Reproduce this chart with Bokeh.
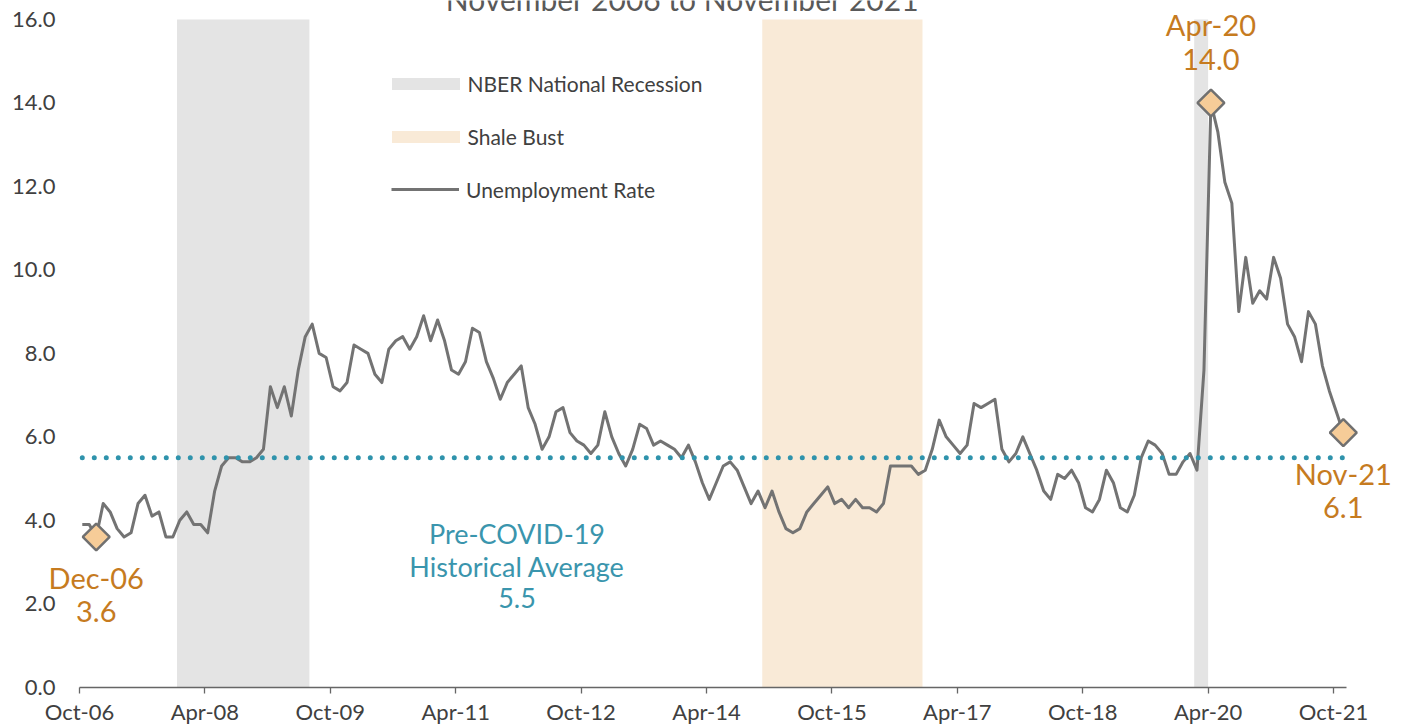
import math
import pandas as pd
from bokeh.plotting import figure
from bokeh.models import Range1d, FixedTicker, Legend, LegendItem, Label, ColumnDataSource, PrintfTickFormatter
from bokeh.embed import file_html
from bokeh.resources import INLINE

# ---------------- DATA ----------------
title_text = "November 2006 to November 2021"
start_month = "2006-10-01"
rate = [
    3.9, 3.9, 3.6, 4.4, 4.2, 3.8, 3.6, 3.7, 4.4, 4.6, 4.1, 4.2,   # Oct-06 .. Sep-07
    3.6, 3.6, 4.0, 4.2, 3.9, 3.9, 3.7, 4.7, 5.3, 5.5, 5.5, 5.4,   # Oct-07 .. Sep-08
    5.4, 5.5, 5.7, 7.2, 6.7, 7.2, 6.5, 7.6, 8.4, 8.7, 8.0, 7.9,   # Oct-08 .. Sep-09
    7.2, 7.1, 7.3, 8.2, 8.1, 8.0, 7.5, 7.3, 8.1, 8.3, 8.4, 8.1,   # Oct-09 .. Sep-10
    8.4, 8.9, 8.3, 8.8, 8.3, 7.6, 7.5, 7.8, 8.6, 8.5, 7.8, 7.4,   # Oct-10 .. Sep-11
    6.9, 7.3, 7.5, 7.7, 6.7, 6.3, 5.7, 6.0, 6.6, 6.7, 6.1, 5.9,   # Oct-11 .. Sep-12
    5.8, 5.6, 5.8, 6.6, 6.0, 5.6, 5.3, 5.7, 6.3, 6.2, 5.8, 5.9,   # Oct-12 .. Sep-13
    5.8, 5.7, 5.5, 5.8, 5.4, 4.9, 4.5, 4.9, 5.3, 5.4, 5.2, 4.8,   # Oct-13 .. Sep-14
    4.4, 4.7, 4.3, 4.7, 4.2, 3.8, 3.7, 3.8, 4.2, 4.4, 4.6, 4.8,   # Oct-14 .. Sep-15
    4.4, 4.5, 4.3, 4.5, 4.3, 4.3, 4.2, 4.4, 5.3, 5.3, 5.3, 5.3,   # Oct-15 .. Sep-16
    5.1, 5.2, 5.7, 6.4, 6.0, 5.8, 5.6, 5.8, 6.8, 6.7, 6.8, 6.9,   # Oct-16 .. Sep-17
    5.7, 5.4, 5.6, 6.0, 5.6, 5.2, 4.7, 4.5, 5.1, 5.0, 5.2, 4.9,   # Oct-17 .. Sep-18
    4.3, 4.2, 4.5, 5.2, 4.9, 4.3, 4.2, 4.6, 5.5, 5.9, 5.8, 5.6,   # Oct-18 .. Sep-19
    5.1, 5.1, 5.4, 5.6, 5.2, 7.6, 14.0, 13.3, 12.1, 11.6, 9.0, 10.3,  # Oct-19 .. Sep-20
    9.2, 9.5, 9.3, 10.3, 9.8, 8.7, 8.4, 7.8, 9.0, 8.7, 7.7, 7.1,  # Oct-20 .. Sep-21
    6.6, 6.1,                                                     # Oct-21 .. Nov-21
]
tick_labels = ["Oct-06", "Apr-08", "Oct-09", "Apr-11", "Oct-12", "Apr-14",
               "Oct-15", "Apr-17", "Oct-18", "Apr-20", "Oct-21"]
y_ticks = [0, 2, 4, 6, 8, 10, 12, 14, 16]
nber_periods = [("Dec-07", "Jun-09"), ("Feb-20", "Mar-20")]
shale_periods = [("Dec-14", "Oct-16")]
pre_covid_avg = 5.5
highlight_months = ["Dec-06", "Apr-20", "Nov-21"]
highlight_side = ["below", "above", "below"]

# ---------------- STYLE / LAYOUT ----------------
FONT = "Lato"
GRAY_TXT = "#404040"
ORANGE = "#C67B1F"
BLUE = "#3A95AD"
LINE_GRAY = "#737373"

W, H = 1404, 727
AX_L, AX_R = 79.0, 1346.0          # pixel x of axis start / end
AX_T, AX_B = 19.0, 686.7           # pixel y of top (16) / bottom (0)
X_END = 181.86                     # data x at axis end

months = pd.date_range(start_month, periods=len(rate), freq="MS").strftime("%b-%y").tolist()
idx = {m: i for i, m in enumerate(months)}
xs = [i + 0.4 for i in range(len(rate))]  # data sit mid-month, ticks at month start

ppx = (AX_R - AX_L) / X_END
ppy = (AX_B - AX_T) / (y_ticks[-1] - y_ticks[0])
x_range = Range1d(-AX_L / ppx, X_END + (W - AX_R) / ppx)
y_range = Range1d(y_ticks[0] - (H - AX_B) / ppy, y_ticks[-1] + AX_T / ppy)

p = figure(width=W, height=H, output_backend="svg", toolbar_location=None,
           x_range=x_range, y_range=y_range,
           min_border_left=0, min_border_right=0, min_border_top=0, min_border_bottom=0)
p.outline_line_color = None
p.xgrid.visible = False
p.ygrid.visible = False
p.background_fill_color = "white"

# shaded periods
def band_src(periods):
    return ColumnDataSource(dict(left=[idx[a] for a, b in periods],
                                 right=[idx[b] + 1 for a, b in periods],
                                 bottom=[y_ticks[0]] * len(periods),
                                 top=[y_ticks[-1]] * len(periods)))

nber_r = p.quad(left="left", right="right", bottom="bottom", top="top", source=band_src(nber_periods),
                fill_color="#E4E4E4", line_color=None)
shale_r = p.quad(left="left", right="right", bottom="bottom", top="top", source=band_src(shale_periods),
                 fill_color="#F9EAD7", line_color=None)

line_r = p.line(xs, rate, line_color=LINE_GRAY, line_width=3, line_join="round")

# pre-covid average dotted line
p.line([xs[0], xs[-1]], [pre_covid_avg, pre_covid_avg], line_color="#2F93AC", line_width=5,
       line_dash="0 12", line_cap="round")

# highlighted points
hx = [xs[idx[m]] for m in highlight_months]
hy = [rate[idx[m]] for m in highlight_months]
p.scatter(hx, hy, marker="square", angle=math.pi / 4, size=19, fill_color="#F6CC98",
          line_color="#707070", line_width=2.5)

for m, side, x, y in zip(highlight_months, highlight_side, hx, hy):
    offs = [-40.5, -75] if side == "below" else [78.7, 43.7]
    for t, off in zip([m, f"{y:.1f}"], offs):
        p.add_layout(Label(x=x, y=y, y_offset=off, text=t, text_align="center",
                           text_baseline="alphabetic", text_font=FONT, text_font_size="29px",
                           text_color=ORANGE))

for t, off in zip(["Pre-COVID-19", "Historical Average", f"{pre_covid_avg:.1f}"], [-75.8, -109.2, -140.8]):
    p.add_layout(Label(x=62.8, y=pre_covid_avg, y_offset=off, text=t, text_align="center",
                       text_baseline="alphabetic", text_font=FONT, text_font_size="27px",
                       text_color=BLUE))

# title, cut off at the very top as in the original
p.add_layout(Label(x=86.6, y=y_ticks[-1], y_offset=21, text=title_text, text_align="center",
                   text_baseline="alphabetic", text_font=FONT, text_font_size="30px",
                   text_color="#595959"))

# axes
xa = p.xaxis[0]
xa.fixed_location = y_ticks[0]
xa.bounds = (0, X_END)
xa.ticker = FixedTicker(ticks=[idx[t] for t in tick_labels])
xa.major_label_overrides = {idx[t]: t for t in tick_labels}
xa.minor_tick_line_color = None
xa.major_tick_in = 0
xa.major_tick_out = 6
xa.axis_line_color = "#666666"
xa.axis_line_width = 1.3
xa.major_tick_line_color = "#666666"
xa.major_tick_line_width = 1.3
xa.major_label_standoff = 5
xa.major_label_text_font = FONT
xa.major_label_text_font_size = "22px"
xa.major_label_text_color = GRAY_TXT

ya = p.yaxis[0]
ya.fixed_location = 0
ya.ticker = FixedTicker(ticks=y_ticks)
ya.formatter = PrintfTickFormatter(format="%.1f")
ya.axis_line_color = None
ya.major_tick_line_color = None
ya.minor_tick_line_color = None
ya.major_tick_in = 0
ya.major_tick_out = 0
ya.major_label_standoff = 24
ya.major_label_text_font = FONT
ya.major_label_text_font_size = "22px"
ya.major_label_text_color = GRAY_TXT

common = dict(orientation="vertical", padding=0, margin=0, label_height=24,
              border_line_color=None, background_fill_alpha=0,
              label_text_font=FONT, label_text_font_size="21px", label_text_color=GRAY_TXT)
# area swatches are drawn at 80% of the glyph box, so the box is enlarged
legend_areas = Legend(items=[LegendItem(label="NBER National Recession", renderers=[nber_r]),
                             LegendItem(label="Shale Bust", renderers=[shale_r])],
                      location=(382.5, H - 148.5), glyph_width=85, glyph_height=15,
                      label_standoff=0, spacing=28, **common)
legend_line = Legend(items=[LegendItem(label="Unemployment Rate", renderers=[line_r])],
                     location=(391, H - 201.5), glyph_width=68, glyph_height=12,
                     label_standoff=7, spacing=28, **common)
p.add_layout(legend_areas)
p.add_layout(legend_line)

open("out.html", "w").write(file_html(p, INLINE))
